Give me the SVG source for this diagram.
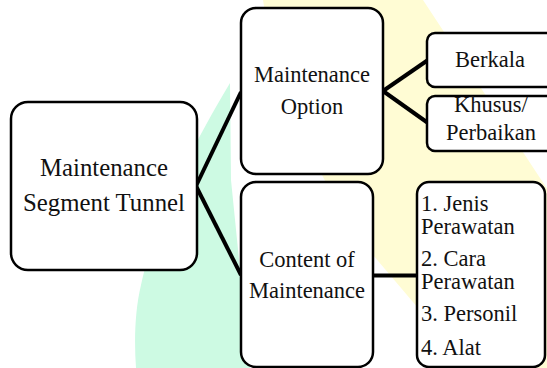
<svg xmlns="http://www.w3.org/2000/svg" width="547" height="368" viewBox="0 0 547 368">
<style>
.box{fill:#fff;stroke:#000;stroke-width:2.5}
.t{font-family:'Liberation Serif','Times New Roman',serif;font-size:22.5px;fill:#111}
.big{font-size:24.8px}
.c{text-anchor:middle}
.conn{stroke:#000;stroke-width:4;fill:none}
</style>
<g id="background">
<path d="M263,0 L423,0 L540,178 L552,196 L552,368 L469,368 L373,255 C320,190 275,80 263,0 Z" fill="#fffcd4"/>
<path d="M230,83 L231,180 L250,368 L136,368 C134,340 135,310 141,285 C155,220 190,150 230,83 Z" fill="#cdfae3"/>
</g>
<g id="connectors">
<line class="conn" x1="196" y1="186" x2="241" y2="92"/>
<line class="conn" x1="196" y1="186" x2="241" y2="275"/>
<line class="conn" x1="383" y1="91" x2="428" y2="60"/>
<line class="conn" x1="383" y1="91" x2="428" y2="123"/>
<line class="conn" x1="373" y1="275.5" x2="417" y2="275.5"/>
</g>
<g id="root">
<rect class="box" x="11" y="102" width="186" height="168" rx="17"/>
<text class="t c big" x="104" y="176">Maintenance</text>
<text class="t c big" x="104" y="211">Segment Tunnel</text>
</g>
<g id="option">
<rect class="box" x="241" y="8" width="142" height="166" rx="15"/>
<text class="t c" x="312" y="82">Maintenance</text>
<text class="t c" x="312" y="114">Option</text>
</g>
<g id="content">
<rect class="box" x="241" y="182" width="132" height="185" rx="15"/>
<text class="t c" x="307" y="267">Content of</text>
<text class="t c" x="307" y="298">Maintenance</text>
</g>
<g id="berkala">
<rect class="box" x="427" y="33" width="128" height="54" rx="8"/>
<text class="t c" x="490" y="67">Berkala</text>
</g>
<g id="khusus">
<rect class="box" x="427" y="96" width="128" height="55" rx="8"/>
<text class="t c" x="491" y="112">Khusus/</text>
<text class="t c" x="491" y="140">Perbaikan</text>
</g>
<g id="list">
<rect class="box" x="417" y="182" width="128" height="185" rx="12"/>
<text class="t" x="421" y="210.5">1. Jenis</text>
<text class="t" x="421" y="233.5">Perawatan</text>
<text class="t" x="421" y="266">2. Cara</text>
<text class="t" x="421" y="289">Perawatan</text>
<text class="t" x="421" y="321">3. Personil</text>
<text class="t" x="421" y="355">4. Alat</text>
</g>
</svg>
